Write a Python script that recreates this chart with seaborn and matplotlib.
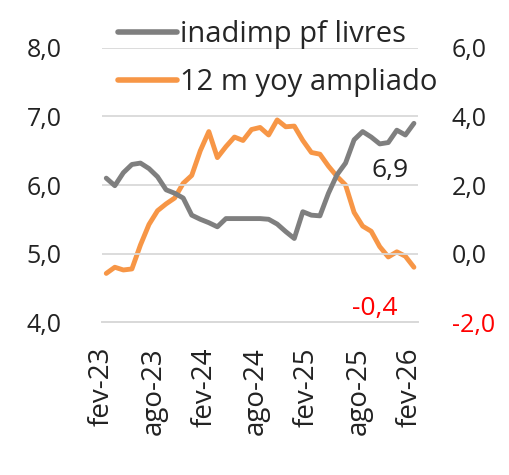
import matplotlib
matplotlib.use("Agg")
import matplotlib.pyplot as plt
import seaborn as sns
import pandas as pd
import numpy as np

# monthly series, fev-23 .. fev-26
months = pd.date_range("2023-02-01", "2026-02-01", freq="MS")
inadimp_pf_livres = [
    6.10, 5.99, 6.18, 6.30, 6.32, 6.24, 6.12, 5.93, 5.88, 5.81,
    5.56, 5.50, 5.45, 5.39, 5.51, 5.51, 5.51, 5.51, 5.51, 5.50,
    5.43, 5.32, 5.22, 5.61, 5.56, 5.55, 5.88, 6.15, 6.32, 6.66,
    6.78, 6.70, 6.60, 6.62, 6.80, 6.73, 6.90,
]
yoy_ampliado = [
    -0.58, -0.40, -0.48, -0.45, 0.25, 0.85, 1.25, 1.45, 1.62, 2.05,
    2.28, 3.00, 3.56, 2.80, 3.12, 3.40, 3.30, 3.62, 3.68, 3.46,
    3.90, 3.70, 3.72, 3.30, 2.95, 2.90, 2.55, 2.25, 2.00, 1.20,
    0.80, 0.65, 0.20, -0.10, 0.05, -0.08, -0.40,
]
tick_labels = ["fev-23", "ago-23", "fev-24", "ago-24", "fev-25", "ago-25", "fev-26"]
left_ticks = [4.0, 5.0, 6.0, 7.0, 8.0]
right_ticks = [-2.0, 0.0, 2.0, 4.0, 6.0]

df = pd.DataFrame({
    "idx": np.arange(len(months)),
    "inadimp pf livres": inadimp_pf_livres,
    "12 m yoy ampliado": yoy_ampliado,
})

gray = "#7f7f7f"
orange = "#f79646"
grid_c = "#d9d9d9"
txt = "#222222"

sns.set_style("white")
plt.rcParams["font.family"] = ["Open Sans", "DejaVu Sans"]

fig = plt.figure(figsize=(5.1, 4.75), dpi=100)
ax = fig.add_axes([0.2, 0.322, 0.62, 0.577])
ax2 = ax.twinx()

sns.lineplot(data=df, x="idx", y="inadimp pf livres", color=gray, lw=3.5,
             ax=ax, label="inadimp pf livres", legend=False)
sns.lineplot(data=df, x="idx", y="12 m yoy ampliado", color=orange, lw=3.5,
             ax=ax2, label="12 m yoy ampliado", legend=False)
for a in (ax, ax2):
    for ln in a.get_lines():
        ln.set_solid_joinstyle("round")
        ln.set_solid_capstyle("round")

ax.set_xlim(-0.5, len(months) - 0.5)
ax.set_ylim(4, 8)
ax2.set_ylim(-2, 6)

fmt = lambda v: f"{v:.1f}".replace(".", ",")
ax.set_yticks(left_ticks)
ax.set_yticklabels([fmt(v) for v in left_ticks])
ax2.set_yticks(right_ticks)
ax2.set_yticklabels([fmt(v) for v in right_ticks])

ax.set_xticks(df["idx"].values[::6] - 0.5)
ax.set_xticklabels(tick_labels, rotation=90)

ax.set_zorder(ax2.get_zorder() + 1)
ax.patch.set_visible(False)

ax.grid(axis="y", color=grid_c, lw=1.3)
ax.set_axisbelow(True)
for a in (ax, ax2):
    for s in ("left", "right", "top"):
        a.spines[s].set_visible(False)
    a.spines["bottom"].set_color(grid_c)
    a.spines["bottom"].set_linewidth(1.3)
    a.set_xlabel("")
    a.set_ylabel("")

ax.tick_params(axis="x", length=8, width=1.3, color=grid_c, pad=10,
               labelsize=20, labelcolor=txt)
ax.tick_params(axis="y", length=0, pad=29, labelsize=18, labelcolor=txt)
ax2.tick_params(axis="y", length=0, pad=24, labelsize=18, labelcolor=txt)
ax2.get_yticklabels()[0].set_color("red")

# end-of-series data labels
ax.annotate(fmt(inadimp_pf_livres[-1]), xy=(df["idx"].iloc[-1], inadimp_pf_livres[-1]),
            xytext=(-17, -34), textcoords="offset points", ha="center", va="center",
            fontsize=19, color=txt)
ax.annotate(fmt(yoy_ampliado[-1]), xy=(df["idx"].iloc[-1], 6 + yoy_ampliado[-1] / 2 - 1),
            xytext=(-28, -30), textcoords="offset points", ha="center", va="center",
            fontsize=19, color="red")

h1, l1 = ax.get_legend_handles_labels()
h2, l2 = ax2.get_legend_handles_labels()
leg = fig.legend(h1 + h2, l1 + l2, loc="upper left", bbox_to_anchor=(0.232, 0.958),
                 frameon=False, fontsize=21, handlelength=2.0, handletextpad=0.12,
                 labelspacing=0.65, borderaxespad=0, borderpad=0)
for ln in leg.get_lines():
    ln.set_linewidth(4)

fig.savefig("out.png", dpi=100, facecolor="white")
